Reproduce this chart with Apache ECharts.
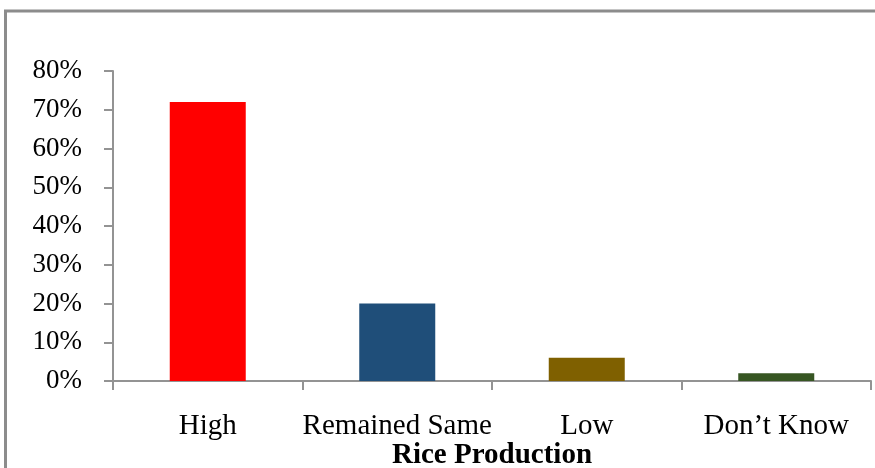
<!DOCTYPE html>
<html><head><meta charset="utf-8">
<script src="https://cdn.jsdelivr.net/npm/echarts@6/dist/echarts.min.js"></script>
<style>html,body{margin:0;padding:0;background:#fff}#c{width:875px;height:468px}</style>
</head><body><div id="c"></div>
<script>
const categories = ['High', 'Remained Same', 'Low', 'Don\u2019t Know'];
const values = [72, 20, 6, 2];
const barColors = ['#FF0000', '#1F4E79', '#7F6000', '#375623'];
const axisTitle = 'Rice Production';

const chart = echarts.init(document.getElementById('c'), null, {renderer: 'canvas'});
const font = '"Liberation Serif", "Times New Roman", serif';
chart.setOption({
  animation: false,
  backgroundColor: '#fff',
  graphic: [{
    type: 'rect', silent: true,
    shape: {x: 5.5, y: 11, width: 1000, height: 1000},
    style: {fill: 'none', stroke: '#8c8c8c', lineWidth: 3}
  }],
  grid: {left: 113, right: 4, top: 71, bottom: 87, containLabel: false, outerBoundsMode: 'none'},
  xAxis: {
    type: 'category',
    data: categories,
    name: axisTitle,
    nameLocation: 'middle',
    nameGap: 60,
    nameMoveOverlap: false,
    nameTextStyle: {fontFamily: font, fontSize: 29, fontWeight: 'bold', color: '#000'},
    axisLine: {lineStyle: {color: '#939393', width: 2}},
    axisTick: {show: true, interval: 0, length: 9, lineStyle: {color: '#939393', width: 2}},
    axisLabel: {interval: 0, fontFamily: font, fontSize: 29, color: '#000', margin: 31, hideOverlap: false}
  },
  yAxis: {
    type: 'value', min: 0, max: 80, interval: 10,
    axisLine: {show: true, lineStyle: {color: '#939393', width: 2}},
    axisTick: {show: true, length: 9, lineStyle: {color: '#939393', width: 2}},
    splitLine: {show: false},
    axisLabel: {fontFamily: font, fontSize: 27, color: '#000', margin: 31, formatter: '{value}%'}
  },
  series: [{
    type: 'bar',
    barWidth: 76,
    data: values.map((v, i) => ({value: v, itemStyle: {color: barColors[i]}}))
  }]
});
</script></body></html>
